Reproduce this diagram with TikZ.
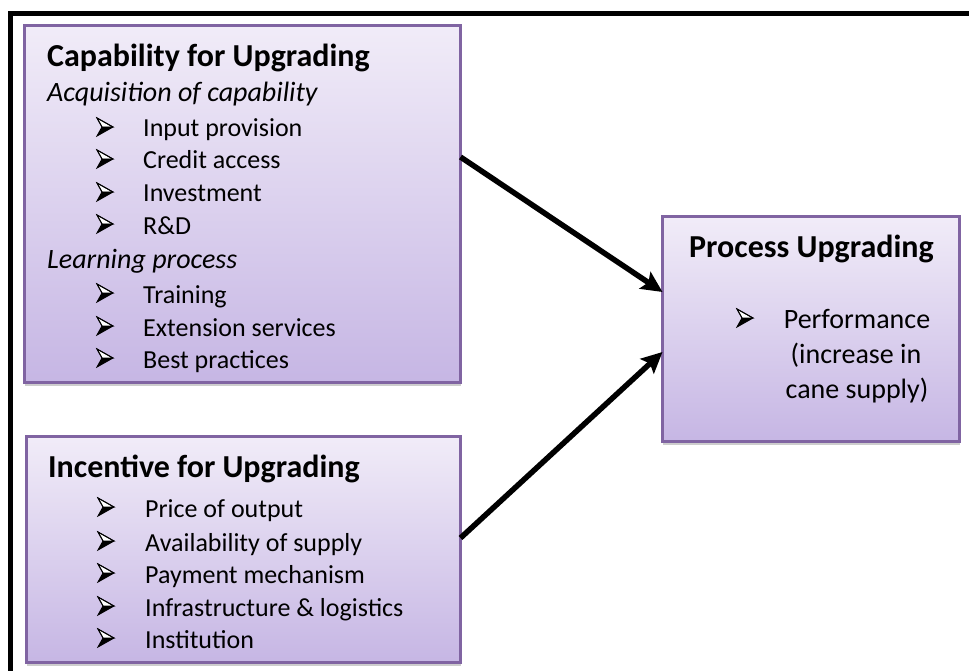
\documentclass[tikz,border=0pt]{standalone}
\usepackage{fontspec}
\setmainfont{Carlito}
\usetikzlibrary{arrows.meta,shadows}
\definecolor{boxtop}{RGB}{241,236,248}
\definecolor{boxbot}{RGB}{198,182,228}
\definecolor{boxedge}{RGB}{128,100,162}
\definecolor{shadowgray}{RGB}{205,205,205}
\tikzset{
  panel/.style={draw=boxedge, line width=3.5pt, top color=boxtop, bottom color=boxbot,
    outer sep=0pt, inner sep=0pt,
    drop shadow={shadow xshift=0.5pt, shadow yshift=-3.5pt, fill=shadowgray, opacity=1}},
  headtxt/.style={anchor=base west, inner sep=0pt, font=\fontsize{32}{38}\selectfont\bfseries},
  subtxt/.style={anchor=base west, inner sep=0pt, font=\fontsize{28}{34}\selectfont\itshape},
  itemtxt/.style={anchor=base west, inner sep=0pt, font=\fontsize{26}{31}\selectfont},
  bigtxt/.style={anchor=base, inner sep=0pt, font=\fontsize{28}{34}\selectfont},
  link/.style={line width=5.5pt, -{Stealth[length=21pt,width=20pt,inset=4pt]}},
  bulletarrow/.pic={
    \draw[line width=0.9pt, line join=miter, fill=white] (0,-18) -- (16,-9) -- (5,-9) -- cycle;
    \fill[black] (5,-9) -- (16,-9) -- (0,0) -- cycle;
    \draw[line width=0.9pt, line join=miter] (0,-18) -- (16,-9) -- (0,0) -- (5,-9) -- cycle;
  }
}
\begin{document}
\begin{tikzpicture}[x=1pt,y=-1pt]
\useasboundingbox (0,0) rectangle (969,671);
% outer frame (top and left sides visible)
\draw[line width=5pt] (10,671) -- (10,13.5) -- (969,13.5);

% boxes
\node[panel, minimum width=436pt, minimum height=357pt] (cap) at (242.5,204) {};
\node[panel, minimum width=434pt, minimum height=226pt] (inc) at (243.5,549.5) {};
\node[panel, minimum width=297pt, minimum height=225pt] (proc) at (811,329) {};

% capability box text
\node[headtxt] (capT) at (47,67) {Capability for Upgrading};
\node[subtxt] (capA) at (47,102) {Acquisition of capability};
\pic at (97,136) {bulletarrow}; \node[itemtxt] (i1) at (143,137) {Input provision};
\pic at (97,168) {bulletarrow}; \node[itemtxt] (i2) at (143,169) {Credit access};
\pic at (97,201) {bulletarrow}; \node[itemtxt] (i3) at (143,202) {Investment};
\pic at (97,233) {bulletarrow}; \node[itemtxt] (i4) at (143,234) {R\&D};
\node[subtxt] (capL) at (47,268) {Learning process};
\pic at (97,302) {bulletarrow}; \node[itemtxt] (i5) at (143,303) {Training};
\pic at (97,335) {bulletarrow}; \node[itemtxt] (i6) at (143,336) {Extension services};
\pic at (97,367) {bulletarrow}; \node[itemtxt] (i7) at (143,368) {Best practices};

% incentive box text
\node[headtxt] (incT) at (48,477) {Incentive for Upgrading};
\pic at (98,516) {bulletarrow}; \node[itemtxt] (j1) at (145,517) {Price of output};
\pic at (98,550) {bulletarrow}; \node[itemtxt] (j2) at (145,551) {Availability of supply};
\pic at (98,582) {bulletarrow}; \node[itemtxt] (j3) at (145,583) {Payment mechanism};
\pic at (98,615) {bulletarrow}; \node[itemtxt] (j4) at (145,616) {Infrastructure \& logistics};
\pic at (98,647) {bulletarrow}; \node[itemtxt] (j5) at (145,648) {Institution};

% process box text
\node[headtxt] (procT) at (689,258) {Process Upgrading};
\pic at (737,327) {bulletarrow};
\node[bigtxt] (p1) at (857,328) {Performance};
\node[bigtxt] (p2) at (856,363) {(increase in};
\node[bigtxt] (p3) at (857,398) {cane supply)};

% connectors
\draw[link] ([yshift=47pt]cap.east) -- ([yshift=37pt]proc.west);
\draw[link] ([yshift=11.5pt]inc.east) -- ([yshift=-23pt]proc.west);
\end{tikzpicture}
\end{document}
